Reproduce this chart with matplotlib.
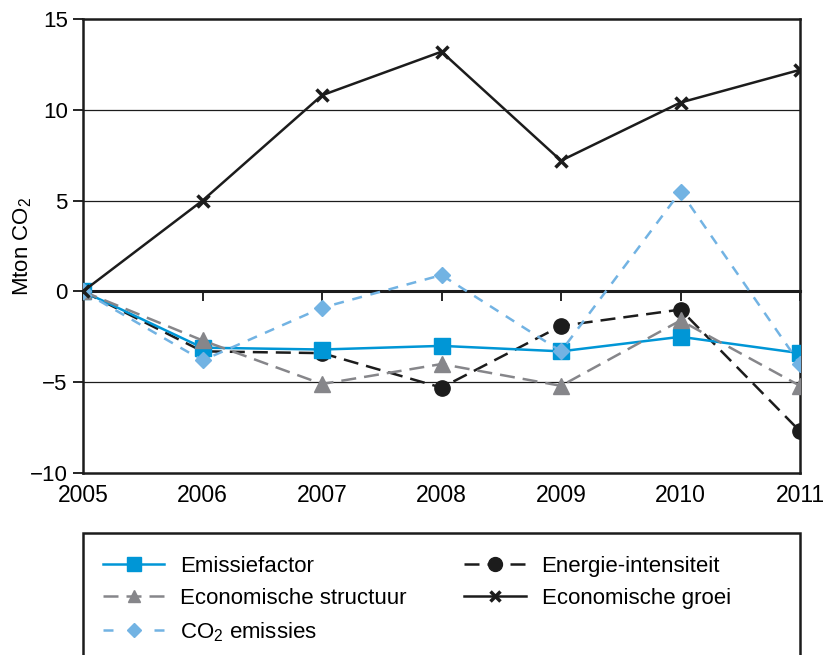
import matplotlib
matplotlib.use("Agg")
import matplotlib.pyplot as plt
from matplotlib.patches import Rectangle
from matplotlib.lines import Line2D

plt.rcParams['font.family'] = ['Liberation Sans', 'DejaVu Sans']
plt.rcParams['mathtext.fontset'] = 'custom'
plt.rcParams['mathtext.rm'] = 'Liberation Sans'
plt.rcParams['mathtext.it'] = 'Liberation Sans'

# data
jaren = [2005, 2006, 2007, 2008, 2009, 2010, 2011]
emissiefactor = [0, -3.1, -3.2, -3.0, -3.3, -2.5, -3.4]
economische_structuur = [0, -2.7, -5.1, -4.0, -5.2, -1.6, -5.2]
energie_intensiteit = [0, -3.3, -3.4, -5.3, -1.9, -1.0, -7.7]
co2_emissies = [0, -3.8, -0.9, 0.9, -3.3, 5.5, -4.0]
economische_groei = [0, 5.0, 10.8, 13.2, 7.2, 10.4, 12.2]
y_ticks = [-10, -5, 0, 5, 10, 15]

blauw = '#0096d6'
lichtblauw = '#72b3e3'
grijs = '#86868a'
zwart = '#1c1c1c'

fig = plt.figure(figsize=(8.25, 6.55), dpi=100)
ax = fig.add_axes([83/825, 1-473/655, 717/825, 454/655])

for y in [-5, 5, 10]:
    ax.axhline(y, color=zwart, lw=0.9, zorder=1)

ax.plot(jaren, emissiefactor, color=blauw, lw=1.8, marker='s', ms=12, zorder=4)
ax.plot(jaren, energie_intensiteit, color=zwart, lw=1.8, marker='o', ms=11,
        dashes=(6, 3.2), zorder=3)
ax.plot(jaren, economische_structuur, color=grijs, lw=1.8, marker='^', ms=11,
        dashes=(6, 3.2), zorder=5)
ax.plot(jaren, co2_emissies, color=lichtblauw, lw=1.8, marker='D', ms=8.5,
        dashes=(4, 3.5), zorder=6)
ax.plot(jaren, economische_groei, color=zwart, lw=1.8, marker='x', ms=9, mew=2.5,
        zorder=7)

ax.set_xlim(2005, 2011)
ax.set_ylim(-10, 15)
ax.set_yticks(y_ticks)
ax.set_xticks(jaren)
ax.tick_params(axis='y', direction='out', length=7, width=1.2, labelsize=16, pad=4)
ax.tick_params(axis='x', length=0, labelsize=16.5, pad=8)
for s in ax.spines.values():
    s.set_linewidth(1.8)
    s.set_color(zwart)
ax.set_ylabel('Mton CO$_2$', fontsize=16)
ax.yaxis.set_label_coords(-0.068, 0.5)

# nul-lijn met tickmarks naar beneden
sec = ax.secondary_xaxis(0.4)
sec.set_xticks(jaren)
sec.tick_params(direction='out', length=7, width=1.2, labelbottom=False, labeltop=False)
sec.spines['bottom'].set_linewidth(2.2)
sec.spines['bottom'].set_color(zwart)

# legenda in kader
fig.patches.append(Rectangle((83/825, -0.05), 717/825, 1-533/655+0.05,
                             transform=fig.transFigure, fill=False,
                             edgecolor=zwart, lw=1.8))
handles = [
    Line2D([], [], color=blauw, lw=1.8, marker='s', ms=9.5, label='Emissiefactor'),
    Line2D([], [], color=grijs, lw=1.8, marker='^', ms=9, dashes=(6, 3.2),
           label='Economische structuur'),
    Line2D([], [], color=lichtblauw, lw=1.8, marker='D', ms=7.5, dashes=(4, 6.2),
           label='CO$_2$ emissies'),
    Line2D([], [], color=zwart, lw=1.8, marker='o', ms=10, dashes=(6, 3.2),
           label='Energie-intensiteit'),
    Line2D([], [], color=zwart, lw=1.8, marker='x', ms=7.5, mew=2.5,
           label='Economische groei'),
]
fig.legend(handles=handles, loc='upper left',
           bbox_to_anchor=(83/825, 1-536/655), ncol=2, frameon=False,
           fontsize=16, handlelength=2.75, handletextpad=0.72,
           columnspacing=2.6, labelspacing=0.5)

fig.savefig('out.png', dpi=100)
